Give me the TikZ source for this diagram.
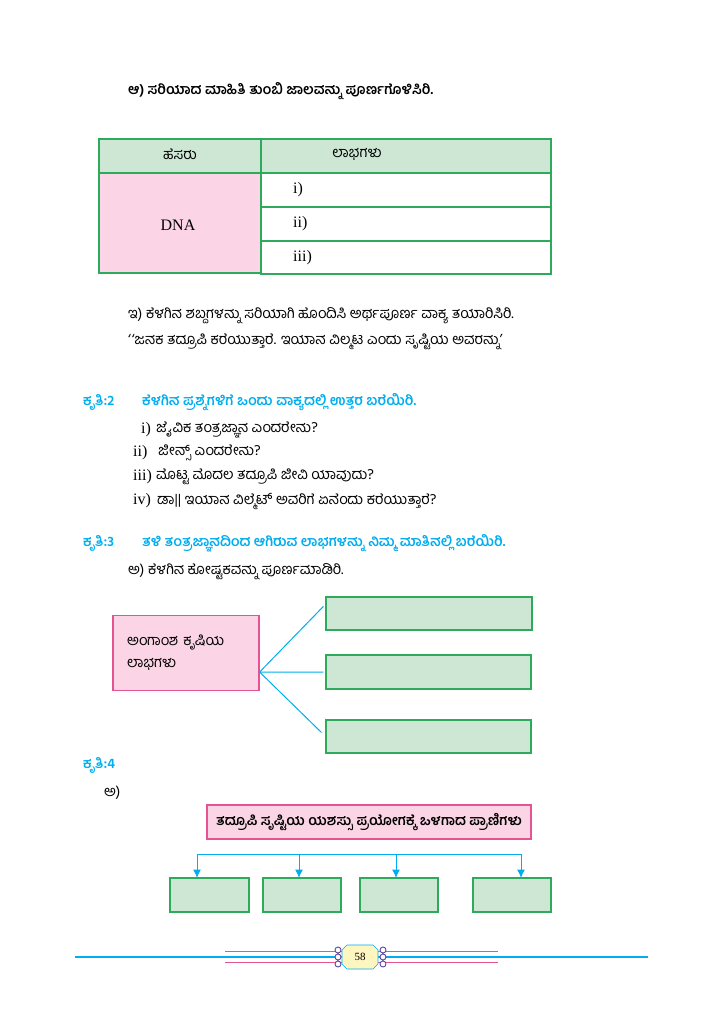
\documentclass[tikz,border=0pt]{standalone}
\usepackage{fontspec}
\newfontfamily\kn[Script=Kannada]{Hind Mysuru}
\newfontfamily\rmn{Liberation Serif}
\usetikzlibrary{calc,positioning,arrows.meta}
\definecolor{kgreen}{RGB}{46,170,92}
\definecolor{kgreenfill}{RGB}{206,231,213}
\definecolor{kpink}{RGB}{228,84,146}
\definecolor{kpinkfill}{RGB}{251,213,229}
\definecolor{kcyan}{RGB}{0,173,238}
\definecolor{kyellow}{RGB}{253,246,192}
\definecolor{kpurple}{RGB}{96,72,160}
\tikzset{
	txt/.style={anchor=west, inner sep=0pt, font=\kn\fontsize{14.6}{16}\selectfont},
	btxt/.style={anchor=west, inner sep=0pt, font=\kn\bfseries\fontsize{14}{16}\selectfont},
	ctxt/.style={btxt, text=kcyan},
	rtxt/.style={anchor=west, inner sep=0pt, font=\rmn\fontsize{16}{18}\selectfont},
	gbox/.style={draw=kgreen, fill=kgreenfill, line width=1.2pt, inner sep=0pt},
	pbox/.style={draw=kpink, fill=kpinkfill, line width=1.2pt, inner sep=0pt},
	link/.style={draw=kcyan, line width=1pt},
	arr/.style={link, -{Latex[length=8.5pt,width=8pt]}},
}

\begin{document}
\begin{tikzpicture}[x=1pt,y=-1pt]
		%%%%% START %%%%%
		\useasboundingbox (0,0) rectangle (724,1024);
		
		\node[btxt] (taskB) at (128,91) {ಆ) ಸರಿಯಾದ ಮಾಹಿತಿ ತುಂಬಿ ಜಾಲವನ್ನು ಪೂರ್ಣಗೊಳಿಸಿರಿ.};
		
		% table
		\draw[gbox] (99,139) rectangle (261,173);
		\draw[gbox] (261,139) rectangle (551,173);
		\draw[draw=kgreen, fill=kpinkfill, line width=1.2pt] (99,173) rectangle (261,273);
		\draw[draw=kgreen, line width=1.2pt] (261,173) rectangle (551,207);
		\draw[draw=kgreen, line width=1.2pt] (261,207) rectangle (551,241);
		\draw[draw=kgreen, line width=1.2pt] (261,241) rectangle (551,274);
		\node[txt, anchor=center] (hName) at (180,154) {ಹೆಸರು};
		\node[txt, anchor=center] (hGain) at (357,154) {ಲಾಭಗಳು};
		\node[rtxt, anchor=center] (dna) at (178,225) {DNA};
		\node[rtxt] (rowA) at (293,190) {i)};
		\node[rtxt] (rowB) at (293,224) {ii)};
		\node[rtxt] (rowC) at (293,258) {iii)};
		
		\node[txt] (taskC) at (128,316) {ಇ) ಕೆಳಗಿನ ಶಬ್ದಗಳನ್ನು ಸರಿಯಾಗಿ ಹೊಂದಿಸಿ ಅರ್ಥಪೂರ್ಣ ವಾಕ್ಯ ತಯಾರಿಸಿರಿ.};
		\node[txt] (quote) at (128,342) {‘\kern1pt‘ಜನಕ ತದ್ರೂಪಿ ಕರೆಯುತ್ತಾರೆ. ಇಯಾನ ವಿಲ್ಮಟ ಎಂದು ಸೃಷ್ಟಿಯ ಅವರನ್ನು’};
		
		% kruthi 2
		\node[ctxt] (krA) at (83,402) {ಕೃತಿ:2};
		\node[ctxt] (krAt) at (142,402) {ಕೆಳಗಿನ ಪ್ರಶ್ನೆಗಳಿಗೆ ಒಂದು ವಾಕ್ಯದಲ್ಲಿ ಉತ್ತರ ಬರೆಯಿರಿ.};
		\node[rtxt] (qAn) at (141,430) {i)};
		\node[txt] (qA) at (156,430) {ಜೈವಿಕ ತಂತ್ರಜ್ಞಾನ ಎಂದರೇನು?};
		\node[rtxt] (qBn) at (133,453) {ii)};
		\node[txt] (qB) at (158,453) {ಜೀನ್ಸ್ ಎಂದರೇನು?};
		\node[rtxt] (qCn) at (133,477) {iii)};
		\node[txt] (qC) at (156,477) {ಮೊಟ್ಟ ಮೊದಲ ತದ್ರೂಪಿ ಜೀವಿ ಯಾವುದು?};
		\node[rtxt] (qDn) at (133,501) {iv)};
		\node[txt] (qD) at (157,501) {ಡಾ|| ಇಯಾನ ವಿಲ್ಮೆಟ್ ಅವರಿಗೆ ಏನೆಂದು ಕರೆಯುತ್ತಾರೆ?};
		
		% kruthi 3
		\node[ctxt] (krB) at (83,543) {ಕೃತಿ:3};
		\node[ctxt] (krBt) at (142,543) {ತಳಿ ತಂತ್ರಜ್ಞಾನದಿಂದ ಆಗಿರುವ ಲಾಭಗಳನ್ನು ನಿಮ್ಮ ಮಾತಿನಲ್ಲಿ ಬರೆಯಿರಿ.};
		\node[txt] (taskA) at (128,572) {ಅ) ಕೆಳಗಿನ ಕೋಷ್ಟಕವನ್ನು ಪೂರ್ಣಮಾಡಿರಿ.};
		
		\node[pbox, minimum width=146, minimum height=75, text width=118, inner xsep=14, align=left, font=\kn\fontsize{14.6}{22}\selectfont] (gain) at (186,653) {ಅಂಗಾಂಶ ಕೃಷಿಯ\\ಲಾಭಗಳು};
		\node[gbox, minimum width=206, minimum height=33] (gainA) at (429,613.5) {};
		\node[gbox, minimum width=205, minimum height=34] (gainB) at (428.5,672) {};
		\node[gbox, minimum width=205, minimum height=33] (gainC) at (428.5,736.5) {};
		\coordinate (fork) at ($(gain.south east)!0.25!(gain.north east)$);
		\draw[link] (fork) -- ($(gainA.north west)+(-2,10)$);
		\draw[link] (fork) -- ($(gainB.west)+(-2,0)$);
		\draw[link] (fork) -- ($(gainC.north west)+(-4,13)$);
		
		% kruthi 4
		\node[ctxt] (krC) at (83,765) {ಕೃತಿ:4};
		\node[txt] (taskD) at (104,793) {ಅ)};
		\node[pbox, minimum width=324, minimum height=34, font=\kn\bfseries\fontsize{14}{16}\selectfont] (clone) at (369,822) {ತದ್ರೂಪಿ ಸೃಷ್ಟಿಯ ಯಶಸ್ಸು ಪ್ರಯೋಗಕ್ಕೆ ಒಳಗಾದ ಪ್ರಾಣಿಗಳು};
		\node[gbox, minimum width=79, minimum height=34] (animA) at (209.5,895) {};
		\node[gbox, minimum width=78, minimum height=34] (animB) at (302,895) {};
		\node[gbox, minimum width=78, minimum height=34] (animC) at (399,895) {};
		\node[gbox, minimum width=78, minimum height=34] (animD) at (512,895) {};
		\coordinate (bar) at (197,854);
		\coordinate (tipA) at (197,878);
		\coordinate (tipB) at (299,878);
		\coordinate (tipC) at (396,878);
		\coordinate (tipD) at (521,878);
		\draw[link] (tipA |- bar) -- (522,854);
		\draw[arr] (tipA |- bar) -- (tipA);
		\draw[arr] (tipB |- bar) -- (tipB);
		\draw[arr] (tipC |- bar) -- (tipC);
		\draw[arr] (tipD |- bar) -- (tipD);
		
		% footer
		\draw[line width=2pt, color=kcyan] (75,957) -- (648,957);
		\draw[line width=1pt, color=kpink] (225,951.5) -- (498,951.5);
		\draw[line width=1pt, color=kpink] (225,962.5) -- (498,962.5);
		\draw[line width=0.9pt, color=kpurple, fill=white] (338,950) circle (3) (338,957) circle (3) (338,964) circle (3);
		\draw[line width=0.9pt, color=kpurple, fill=white] (383,950) circle (3) (383,957) circle (3) (383,964) circle (3);
		\draw[draw=kcyan, fill=kyellow, line width=0.6pt] (347,945) -- (373,945) -- (378,950) -- (378,964) -- (373,969) -- (347,969) -- (342,964) -- (342,950) -- cycle;
		\node[font=\rmn\fontsize{11}{12}\selectfont] (page) at (360,957) {58};
		
		%%%%% END %%%%%
\end{tikzpicture}
\end{document}
